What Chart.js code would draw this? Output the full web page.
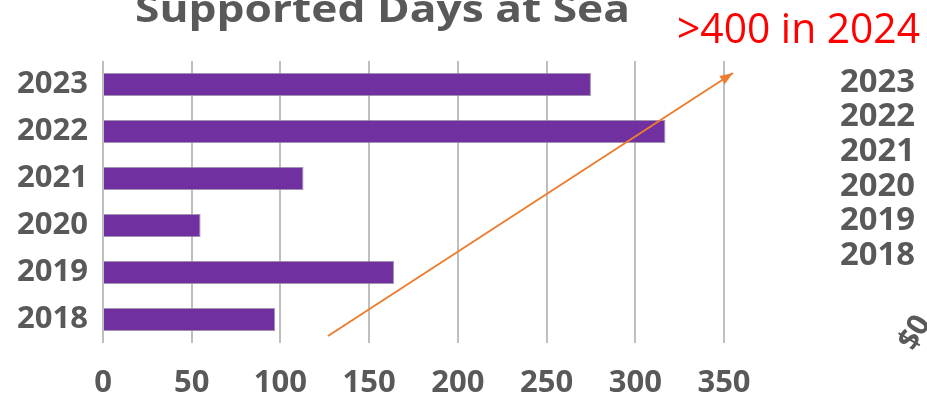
<!DOCTYPE html>
<html>
<head>
<meta charset="utf-8">
<script src="https://cdn.jsdelivr.net/npm/chart.js@4/dist/chart.umd.min.js"></script>
<style>
    html, body { margin: 0; padding: 0; background: #fff; }
    #wrap { width: 927px; height: 393px; position: relative; }
</style>
</head>
<body>
<div id="wrap"><canvas id="chart"></canvas></div>
<script>
// Data
const years = ['2023', '2022', '2021', '2020', '2019', '2018'];
const daysAtSea = [275, 317, 113, 55, 164, 97];
const sideYears = ['2023', '2022', '2021', '2020', '2019', '2018'];
const xTicks = [0, 50, 100, 150, 200, 250, 300, 350];

const GRAY = '#595959';
const FONT = '"Open Sans", "DejaVu Sans", sans-serif';

// draw text squeezed/stretched to a given width (the original used Calibri)
function drawFit(ctx, text, x, y, width, font, color) {
    ctx.save();
    ctx.font = font;
    ctx.fillStyle = color;
    ctx.textAlign = 'left';
    ctx.textBaseline = 'alphabetic';
    const w = ctx.measureText(text).width;
    ctx.translate(x, y);
    ctx.scale(width / w, 1);
    ctx.fillText(text, 0, 0);
    ctx.restore();
}

// Extras: cut-off title, red note, arrow, side list
const extras = {
    id: 'extras',
    afterDraw(chart) {
        const ctx = chart.ctx;
        drawFit(ctx, 'Supported Days at Sea', 135, 22, 495, 'bold 38px ' + FONT, GRAY);
        drawFit(ctx, '>400 in 2024', 677, 43, 243, '42px ' + FONT, '#ff0000');

        // arrow
        const x1 = 328, y1 = 336, x2 = 733, y2 = 73;
        ctx.save();
        ctx.strokeStyle = '#ED7D31';
        ctx.fillStyle = '#ED7D31';
        ctx.lineWidth = 2;
        ctx.beginPath();
        ctx.moveTo(x1, y1);
        ctx.lineTo(x2, y2);
        ctx.stroke();
        const ang = Math.atan2(y2 - y1, x2 - x1);
        const len = 13, half = 5;
        ctx.beginPath();
        ctx.moveTo(x2, y2);
        ctx.lineTo(x2 - len * Math.cos(ang) + half * Math.sin(ang), y2 - len * Math.sin(ang) - half * Math.cos(ang));
        ctx.lineTo(x2 - len * Math.cos(ang) - half * Math.sin(ang), y2 - len * Math.sin(ang) + half * Math.cos(ang));
        ctx.closePath();
        ctx.fill();
        ctx.restore();

        // side list of years
        sideYears.forEach((s, i) => {
            drawFit(ctx, s, 840, 91.5 + i * 34.7, 75, 'bold 32px ' + FONT, GRAY);
        });

        // rotated fragment at bottom right
        ctx.save();
        ctx.translate(914, 352);
        ctx.rotate(-Math.PI / 3);
        ctx.font = 'bold 30px ' + FONT;
        ctx.fillStyle = GRAY;
        ctx.textBaseline = 'alphabetic';
        ctx.fillText('$0', 0, 0);
        ctx.restore();
    }
};

const chart = new Chart(document.getElementById('chart'), {
    type: 'bar',
    data: {
        labels: years,
        datasets: [{
            data: daysAtSea,
            backgroundColor: '#7030A0',
            borderColor: 'rgba(140,120,160,0.8)',
            borderWidth: 1,
            categoryPercentage: 1,
            barPercentage: 0.49
        }]
    },
    options: {
        indexAxis: 'y',
        responsive: true,
        maintainAspectRatio: false,
        animation: false,
        layout: { padding: { left: 0, right: 203, top: 61, bottom: 0 } },
        plugins: { legend: { display: false }, tooltip: { enabled: false } },
        scales: {
            x: {
                min: 0,
                max: 350,
                afterBuildTicks: s => { s.ticks = xTicks.map(v => ({ value: v })); },
                afterFit: s => { s.height = 50; },
                grid: { color: '#BFBFBF', lineWidth: 2, drawTicks: false },
                border: { display: false },
                ticks: { color: GRAY, padding: 22, font: { family: FONT, size: 31, weight: 'bold' } }
            },
            y: {
                afterFit: s => { s.width = 103; },
                grid: { display: false, drawTicks: false },
                border: { display: false },
                ticks: { color: GRAY, padding: 15, font: { family: FONT, size: 31, weight: 'bold' } }
            }
        }
    },
    plugins: [extras]
});
</script>
</body>
</html>
